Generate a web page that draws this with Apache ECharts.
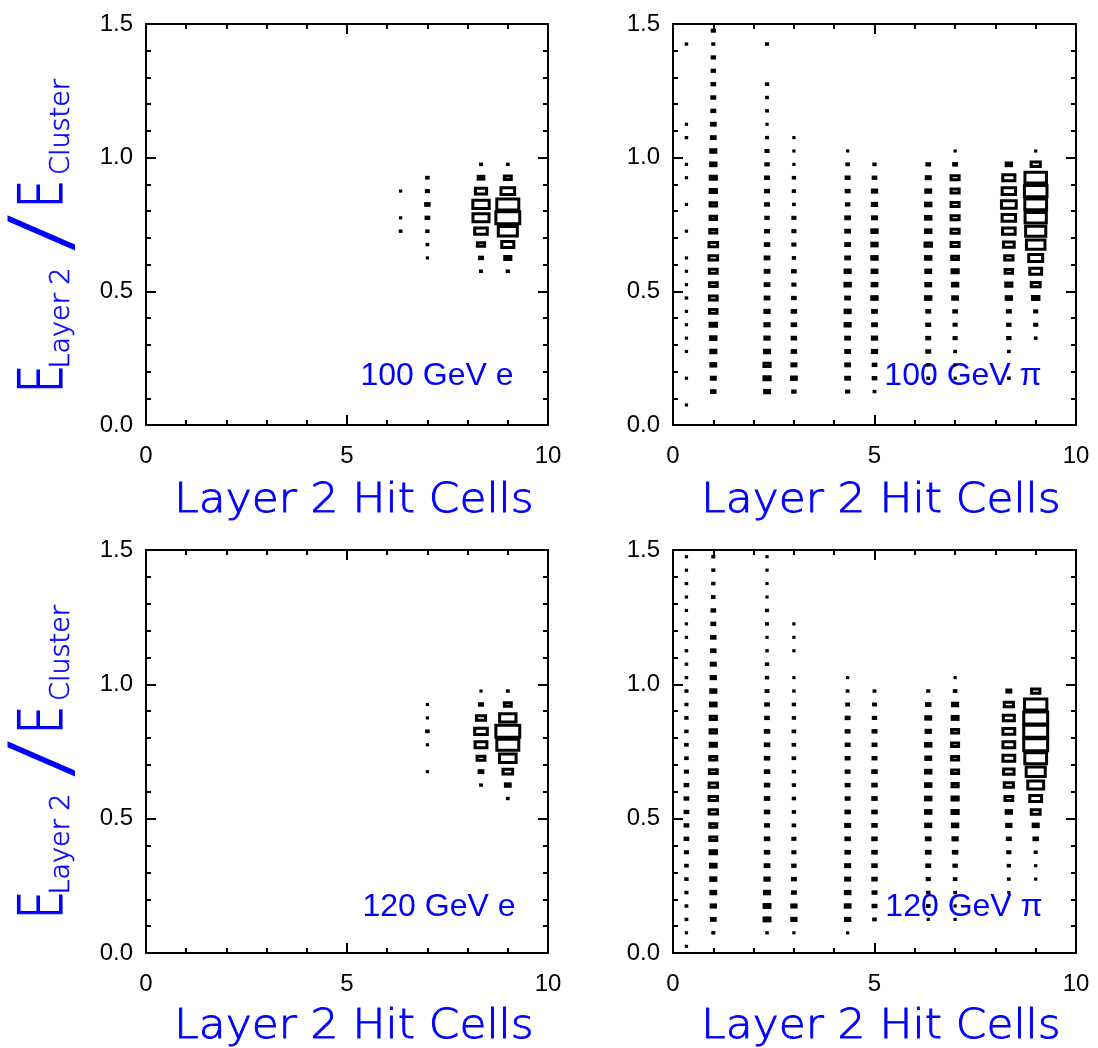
<!DOCTYPE html>
<html>
<head>
<meta charset="utf-8">
<script src="https://cdn.jsdelivr.net/npm/echarts@6/dist/echarts.min.js"></script>
<style>
  html, body { margin: 0; padding: 0; background: #fff; }
  #chart { width: 1098px; height: 1048px; }
</style>
</head>
<body>
<div id="chart"></div>
<script>
// Layer-2 energy fraction versus number of hit cells in layer 2,
// drawn as box histograms (box side proportional to cell content, in %).

// x centres of the hit-cell columns
const xCentres = [1 / 3, 1, 7 / 3, 3, 13 / 3, 5, 19 / 3, 7, 25 / 3, 9];
// y centres of the E(layer 2)/E(cluster) bins, top row first
const yCentres = [1.475, 1.425, 1.375, 1.325, 1.275, 1.225, 1.175, 1.125, 1.075, 1.025,
                  0.975, 0.925, 0.875, 0.825, 0.775, 0.725, 0.675, 0.625, 0.575, 0.525,
                  0.475, 0.425, 0.375, 0.325, 0.275, 0.225, 0.175, 0.125, 0.075, 0.025];
// bin size of one cell in data units
const CELL_W = 2 / 3;
const CELL_H = 0.05;

const xTicks = [0, 5, 10];
const yTicks = [0.0, 0.5, 1.0, 1.5];

// ---- 100 GeV electrons ----
const e100_c633 = [0,0,0,0,0,0,0,0,0,0, 0,0,1,0,1,3,0,0,0,0, 0,0,0,0,0,0,0,0,0,0];
const e100_c7   = [0,0,0,0,0,0,0,0,0,0, 0,6,8,13,10,5,3,1,0,0, 0,0,0,0,0,0,0,0,0,0];
const e100_c833 = [0,0,0,0,0,0,0,0,0,0, 4,21,42,61,60,47,27,11,4,0, 0,0,0,0,0,0,0,0,0,0];
const e100_c9   = [0,0,0,0,0,0,0,0,0,0, 3,26,51,82,89,71,45,23,5,0, 0,0,0,0,0,0,0,0,0,0];

// ---- 100 GeV pions ----
const pi100_c033 = [0,2,0,0,0,0,0,1,2,0, 1,1,0,1,0,1,0,1,1,1, 2,1,1,1,1,0,1,0,1,0];
const pi100_c1   = [8,4,9,9,10,11,11,14,14,19, 20,23,23,24,24,26,32,32,29,29, 29,28,24,20,19,18,15,13,0,0];
const pi100_c233 = [0,4,0,0,5,3,3,1,4,8, 9,11,11,11,9,11,13,14,14,14, 14,16,16,16,19,23,23,18,0,0];
const pi100_c3   = [0,0,0,0,0,0,0,0,1,1, 1,5,5,3,8,8,8,5,10,8, 10,13,13,13,13,15,18,9,0,0];
const pi100_c433 = [0,0,0,0,0,0,0,0,0,1, 6,11,11,9,14,14,14,14,19,20, 14,19,19,14,14,14,14,8,0,0];
const pi100_c5   = [0,0,0,0,0,0,0,0,0,0, 5,10,16,16,15,20,20,20,18,18, 20,14,14,16,16,10,10,3,0,0];
const pi100_c633 = [0,0,0,0,0,0,0,0,0,0, 10,15,18,20,20,20,24,20,18,18, 20,11,11,11,11,5,3,0,0,0];
const pi100_c7   = [0,0,0,0,0,0,0,0,0,1, 11,30,30,30,30,30,30,25,23,20, 18,10,8,8,3,1,1,0,0,0];
const pi100_c833 = [0,0,0,0,0,0,0,0,0,0, 20,45,50,55,50,47,40,31,28,23, 20,11,9,9,3,0,3,0,0,0];
const pi100_c9   = [0,0,0,0,0,0,0,0,0,1, 34,80,84,81,79,75,69,52,44,33, 24,8,8,3,0,0,0,0,0,0];

// ---- 120 GeV electrons ----
const e120_c7   = [0,0,0,0,0,0,0,0,0,0, 0,1,1,6,1,0,1,0,0,0, 0,0,0,0,0,0,0,0,0,0];
const e120_c833 = [0,0,0,0,0,0,0,0,0,0, 1,11,34,47,44,29,14,3,0,0, 0,0,0,0,0,0,0,0,0,0];
const e120_c9   = [0,0,0,0,0,0,0,0,0,0, 3,26,61,89,82,62,36,18,3,0, 0,0,0,0,0,0,0,0,0,0];

// ---- 120 GeV pions ----
const pi120_c033 = [1,1,2,1,1,1,1,2,2,2, 4,4,5,5,6,6,8,10,10,10, 10,10,8,6,5,4,3,3,1,1];
const pi120_c1   = [4,4,5,6,10,11,13,13,15,16, 19,21,23,24,23,26,29,31,31,31, 26,26,24,21,19,18,16,14,4,0];
const pi120_c233 = [1,1,1,1,4,4,1,2,5,5, 7,10,10,13,13,13,13,13,13,13, 11,13,13,14,16,19,22,22,2,0];
const pi120_c3   = [0,0,0,0,0,1,1,1,0,1, 2,5,5,6,6,6,5,5,5,5, 6,8,8,9,11,11,16,16,1,0];
const pi120_c433 = [0,0,0,0,0,0,0,0,0,1, 3,7,11,11,11,11,11,11,11,13, 15,13,13,15,15,17,18,16,1,0];
const pi120_c5   = [0,0,0,0,0,0,0,0,0,0, 3,7,9,11,11,11,13,13,13,13, 13,13,13,13,13,11,11,6,0,0];
const pi120_c633 = [0,0,0,0,0,0,0,0,0,0, 4,13,18,16,20,18,20,20,20,20, 19,14,14,11,8,5,6,1,0,0];
const pi120_c7   = [0,0,0,0,0,0,0,0,0,1, 6,19,22,26,26,26,26,23,23,23, 20,16,13,9,6,3,1,1,0,0];
const pi120_c833 = [0,0,0,0,0,0,0,0,0,0, 15,34,41,44,44,44,39,34,29,20, 16,11,8,5,3,1,0,0,0,0];
const pi120_c9   = [0,0,0,0,0,0,0,0,0,0, 31,83,89,89,89,81,71,59,44,33, 19,13,4,1,1,0,0,0,0,0];

const panelLabels = ['100 GeV e', '100 GeV \u03c0', '120 GeV e', '120 GeV \u03c0'];
const xTitle = 'Layer 2 Hit Cells';

// column index (into xCentres) -> content array, per panel
const panels = [
  [[6, e100_c633], [7, e100_c7], [8, e100_c833], [9, e100_c9]],
  [[0, pi100_c033], [1, pi100_c1], [2, pi100_c233], [3, pi100_c3], [4, pi100_c433],
   [5, pi100_c5], [6, pi100_c633], [7, pi100_c7], [8, pi100_c833], [9, pi100_c9]],
  [[7, e120_c7], [8, e120_c833], [9, e120_c9]],
  [[0, pi120_c033], [1, pi120_c1], [2, pi120_c233], [3, pi120_c3], [4, pi120_c433],
   [5, pi120_c5], [6, pi120_c633], [7, pi120_c7], [8, pi120_c833], [9, pi120_c9]]
];

const grids = [
  { left: 146, top: 24, width: 402, height: 401 },
  { left: 673, top: 24, width: 403, height: 401 },
  { left: 146, top: 550, width: 402, height: 403 },
  { left: 673, top: 550, width: 403, height: 403 }
];

const BLUE = '#0000ff';
const TITLE_FONT = '"DejaVu Sans", sans-serif';
const NUM_FONT = '"Liberation Sans", Arial, sans-serif';
const BOX_LINE = 3;

function cellData(panel) {
  const out = [];
  panel.forEach(([ci, col]) => {
    col.forEach((v, k) => {
      if (v > 0) out.push([xCentres[ci], yCentres[k], v]);
    });
  });
  return out;
}

function drawCell(params, api) {
  const c = api.coord([api.value(0), api.value(1)]);
  const cell = api.size([CELL_W, CELL_H]);
  const s = api.value(2) / 100;
  const w = cell[0] * s, h = cell[1] * s;
  return {
    type: 'rect',
    shape: { x: c[0] - w / 2, y: c[1] - h / 2, width: w, height: h },
    style: { fill: '#fff', stroke: '#000', lineWidth: BOX_LINE }
  };
}

const frameLine = { show: true, onZero: false, lineStyle: { color: '#000', width: 2 } };
const tickStyle = { inside: true, length: 10, lineStyle: { color: '#000', width: 2 } };

function xAxisPair(gi) {
  const base = {
    gridIndex: gi, type: 'value', min: 0, max: 10, interval: 5,
    axisLine: frameLine, axisTick: tickStyle,
    minorTick: { show: true, splitNumber: 5, length: 5, lineStyle: { color: '#000', width: 2 } },
    splitLine: { show: false }, minorSplitLine: { show: false }
  };
  return [
    Object.assign({}, base, {
      position: 'bottom',
      axisLabel: { color: '#000', fontSize: 24, fontFamily: NUM_FONT, margin: 19,
                   formatter: v => (xTicks.indexOf(v) >= 0 ? String(v) : '') }
    }),
    Object.assign({}, base, { position: 'top', axisLabel: { show: false } })
  ];
}

function yAxisPair(gi) {
  const base = {
    gridIndex: gi, type: 'value', min: 0, max: 1.5, interval: 0.5,
    axisLine: frameLine, axisTick: tickStyle,
    minorTick: { show: true, splitNumber: 5, length: 5, lineStyle: { color: '#000', width: 2 } },
    splitLine: { show: false }, minorSplitLine: { show: false }
  };
  return [
    Object.assign({}, base, {
      position: 'left',
      axisLabel: { color: '#000', fontSize: 24, fontFamily: NUM_FONT, margin: 13,
                   formatter: v => (yTicks.indexOf(v) >= 0 ? v.toFixed(1) : '') }
    }),
    Object.assign({}, base, { position: 'right', axisLabel: { show: false } })
  ];
}

const xAxes = [], yAxes = [], series = [];
grids.forEach((g, gi) => {
  xAxes.push(...xAxisPair(gi));
  yAxes.push(...yAxisPair(gi));
  series.push({
    type: 'custom',
    xAxisIndex: gi * 2,
    yAxisIndex: gi * 2,
    renderItem: drawCell,
    data: cellData(panels[gi]),
    silent: true,
    animation: false
  });
});

// text decorations
function txt(text, x, y, size, opts) {
  const o = opts || {};
  const style = {
    text: text, fill: o.color || BLUE,
    fontSize: size, fontFamily: o.family || TITLE_FONT, fontWeight: o.weight || 200,
    textAlign: 'center', textVerticalAlign: 'middle',
    align: 'center', verticalAlign: 'middle'
  };
  if (o.stroke) { style.stroke = o.color || BLUE; style.lineWidth = o.stroke; }
  return {
    type: 'text', x: x, y: y,
    rotation: o.rotation || 0,
    scaleX: o.scaleX || 1,
    scaleY: o.scaleY || 1,
    silent: true,
    style: style
  };
}

const graphics = [];
[0, 526].forEach((dy) => {
  // y-axis title: E_{Layer 2} / E_{Cluster}, reading bottom to top
  const r = Math.PI / 2;
  graphics.push(txt('E', 46, 379 + dy, 60, { rotation: r, scaleX: 0.75, stroke: 1.2 }));
  graphics.push(txt('Layer 2', 62, 318 + dy, 27, { rotation: r, stroke: 0.6 }));
  graphics.push(txt('/', 46, 233 + dy, 82, { rotation: r, scaleX: 1.4 }));
  graphics.push(txt('E', 46, 194 + dy, 60, { rotation: r, scaleX: 0.75, stroke: 1.2 }));
  graphics.push(txt('Cluster', 62, 127 + dy, 27, { rotation: r, stroke: 0.6 }));
  // x-axis titles
  graphics.push(txt(xTitle, 354, 501 + dy, 41, { scaleX: 1.07, stroke: 0.9 }));
  graphics.push(txt(xTitle, 881, 501 + dy, 41, { scaleX: 1.07, stroke: 0.9 }));
});
const labelOpts = { family: NUM_FONT, weight: 'normal' };
graphics.push(txt(panelLabels[0], 437, 376, 32, labelOpts));
graphics.push(txt(panelLabels[1], 963, 376, 32, labelOpts));
graphics.push(txt(panelLabels[2], 439, 907, 32, labelOpts));
graphics.push(txt(panelLabels[3], 964, 907, 32, labelOpts));

const chart = echarts.init(document.getElementById('chart'), null, { renderer: 'canvas' });
chart.setOption({
  backgroundColor: '#fff',
  animation: false,
  grid: grids.map(g => Object.assign({ containLabel: false }, g)),
  xAxis: xAxes,
  yAxis: yAxes,
  series: series,
  graphic: { elements: graphics }
});
</script>
</body>
</html>
